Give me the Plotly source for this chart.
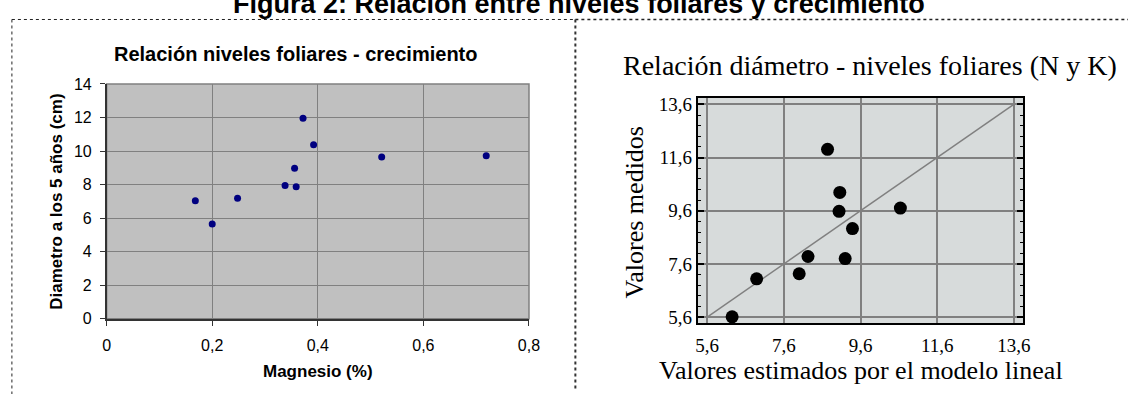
import plotly.graph_objects as go

W, H = 1139, 403

# ---------------- data ----------------
# Left chart: Magnesio (%) vs diámetro a los 5 años (cm)
magnesio = [0.168, 0.200, 0.248, 0.338, 0.356, 0.359, 0.372, 0.392, 0.521, 0.719]
diametro = [7.04, 5.65, 7.19, 7.94, 8.98, 7.87, 11.95, 10.38, 9.64, 9.72]
mg_ticks = [0, 0.2, 0.4, 0.6, 0.8]
mg_ticktext = ["0", "0,2", "0,4", "0,6", "0,8"]
diam_ticks = [0, 2, 4, 6, 8, 10, 12, 14]

# Right chart: valores estimados vs valores medidos
estimados = [6.25, 6.89, 8.00, 8.23, 8.74, 9.06, 9.04, 9.39, 9.20, 10.64]
medidos = [5.61, 7.04, 7.23, 7.88, 11.91, 10.29, 9.58, 8.93, 7.80, 9.70]
linea_ref = [5.6, 13.6]
rt_ticks = [5.6, 7.6, 9.6, 11.6, 13.6]
rt_ticktext = ["5,6", "7,6", "9,6", "11,6", "13,6"]


def px(x):
    return x / W


def py(y):
    return 1 - y / H


SANS = "Liberation Sans, Arial, sans-serif"
SERIF = "Liberation Serif, Times New Roman, serif"

fig = go.Figure()

fig.add_trace(go.Scatter(
    x=magnesio, y=diametro, mode="markers",
    marker=dict(color="#000080", size=7, line=dict(width=0)),
    xaxis="x", yaxis="y", showlegend=False, hoverinfo="skip"))

fig.add_trace(go.Scatter(
    x=linea_ref, y=linea_ref, mode="lines",
    line=dict(color="#808080", width=1.5),
    xaxis="x2", yaxis="y2", showlegend=False, hoverinfo="skip"))

fig.add_trace(go.Scatter(
    x=estimados, y=medidos, mode="markers",
    marker=dict(color="black", size=13, line=dict(width=0)),
    xaxis="x2", yaxis="y2", showlegend=False, hoverinfo="skip"))

shapes = [
    # left plot background
    dict(type="rect", xref="x domain", yref="y domain", x0=0, x1=1, y0=0, y1=1,
         fillcolor="#C0C0C0", line=dict(color="#808080", width=1.5), layer="below"),
    # right plot background
    dict(type="rect", xref="x2 domain", yref="y2 domain", x0=0, x1=1, y0=0, y1=1,
         fillcolor="#D7DBDB", line=dict(width=0), layer="below"),
    # dotted frame lines
    dict(type="line", xref="paper", yref="paper", x0=px(8), x1=px(579), y0=py(12), y1=py(12),
         line=dict(color="#222", width=1, dash="dot")),
    dict(type="line", xref="paper", yref="paper", x0=px(579), x1=1, y0=py(12), y1=py(12),
         line=dict(color="#222", width=1.5, dash="dot")),
    dict(type="line", xref="paper", yref="paper", x0=px(8), x1=px(8), y0=py(12), y1=0,
         line=dict(color="#222", width=1, dash="dot")),
    dict(type="line", xref="paper", yref="paper", x0=px(579), x1=px(579), y0=py(12), y1=py(400),
         line=dict(color="#333", width=2, dash="dot")),
]

annotations = [
    dict(text="<b>Figura 2: Relación entre niveles foliares y crecimiento</b>",
         x=px(583), y=py(-4), xref="paper", yref="paper", xanchor="center", yanchor="middle",
         showarrow=False, font=dict(family=SANS, size=27, color="black")),
    dict(text="<b>Relación niveles foliares - crecimiento</b>",
         x=px(295), y=py(48), xref="paper", yref="paper", xanchor="center", yanchor="middle",
         showarrow=False, font=dict(family=SANS, size=20, color="black")),
    dict(text="<b>Diametro a los 5 años (cm)</b>",
         x=px(53), y=py(202), xref="paper", yref="paper", xanchor="center", yanchor="middle",
         textangle=-90, showarrow=False, font=dict(family=SANS, size=17, color="black")),
    dict(text="<b>Magnesio (%)</b>",
         x=px(318), y=py(379), xref="paper", yref="paper", xanchor="center", yanchor="middle",
         showarrow=False, font=dict(family=SANS, size=17, color="black")),
    dict(text="Relación diámetro - niveles foliares (N y K)",
         x=px(878), y=py(60), xref="paper", yref="paper", xanchor="center", yanchor="middle",
         showarrow=False, font=dict(family=SERIF, size=28, color="black")),
    dict(text="Valores medidos",
         x=px(638), y=py(213), xref="paper", yref="paper", xanchor="center", yanchor="middle",
         textangle=-90, showarrow=False, font=dict(family=SERIF, size=26, color="black")),
    dict(text="Valores estimados por el modelo lineal",
         x=px(868), y=py(378), xref="paper", yref="paper", xanchor="center", yanchor="middle",
         showarrow=False, font=dict(family=SERIF, size=26, color="black")),
]

fig.update_layout(
    width=W, height=H,
    margin=dict(l=0, r=0, t=0, b=0),
    paper_bgcolor="white",
    plot_bgcolor="rgba(0,0,0,0)",
    showlegend=False,
    shapes=shapes,
    annotations=annotations,
    xaxis=dict(
        domain=[px(104), px(532)], range=[0, 0.8], anchor="y",
        tickmode="array", tickvals=mg_ticks, ticktext=mg_ticktext,
        ticks="outside", ticklen=5, tickcolor="#333", tickwidth=1,
        ticklabelstandoff=6,
        showgrid=True, gridcolor="#808080", gridwidth=1,
        showline=True, linecolor="#333", linewidth=1.5, zeroline=False,
        tickfont=dict(family=SANS, size=16, color="black"),
    ),
    yaxis=dict(
        domain=[py(324.5), py(79.3)], range=[0, 14], anchor="x",
        tickmode="array", tickvals=diam_ticks,
        ticks="outside", ticklen=5, tickcolor="#333", tickwidth=1,
        ticklabelstandoff=5,
        showgrid=True, gridcolor="#808080", gridwidth=1,
        showline=True, linecolor="#333", linewidth=1.5, zeroline=False,
        tickfont=dict(family=SANS, size=16, color="black"),
    ),
    xaxis2=dict(
        domain=[px(703), px(1033)], range=[5.353, 13.85], anchor="y2",
        tickmode="array", tickvals=rt_ticks, ticktext=rt_ticktext,
        ticks="", ticklabelstandoff=4,
        showgrid=True, gridcolor="#808080", gridwidth=2,
        showline=True, linecolor="black", linewidth=2, mirror=True, zeroline=False,
        tickfont=dict(family=SERIF, size=19, color="black"),
    ),
    yaxis2=dict(
        domain=[py(329.3), py(94)], range=[5.362, 13.84], anchor="x2",
        tickmode="array", tickvals=rt_ticks, ticktext=rt_ticktext,
        ticks="inside", ticklen=6, tickcolor="black", tickwidth=1.5,
        showgrid=True, gridcolor="#808080", gridwidth=2,
        showline=True, linecolor="black", linewidth=2, mirror="ticks", zeroline=False,
        tickfont=dict(family=SERIF, size=19, color="black"),
        minor=dict(ticks="inside", ticklen=3, tickcolor="black", tickwidth=1,
                   tickmode="linear", tick0=5.6, dtick=0.4, showgrid=False),
    ),
)

fig.write_html("out.html")
